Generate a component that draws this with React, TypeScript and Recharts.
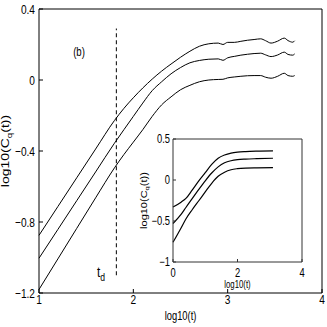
import { LineChart, Line, XAxis, YAxis, ReferenceLine } from "recharts";

// main panel: log10(t) grid and the three curves
const tMain = [1.0, 1.2, 1.4, 1.6, 1.8, 1.9, 2.0, 2.1, 2.2, 2.3, 2.4, 2.5, 2.6, 2.7, 2.8, 2.9, 2.95, 3.0, 3.07, 3.14, 3.21, 3.28, 3.35, 3.4, 3.46, 3.53, 3.6, 3.64, 3.69, 3.71];
const cUpper = [-0.875, -0.713, -0.551, -0.389, -0.228, -0.16, -0.1, -0.045, 0.005, 0.05, 0.09, 0.128, 0.162, 0.19, 0.204, 0.208, 0.2, 0.212, 0.212, 0.218, 0.224, 0.228, 0.232, 0.222, 0.208, 0.219, 0.236, 0.222, 0.213, 0.221];
const cMiddle = [-1.004, -0.842, -0.68, -0.518, -0.356, -0.28, -0.205, -0.13, -0.06, -0.01, 0.035, 0.07, 0.097, 0.11, 0.117, 0.119, 0.111, 0.125, 0.133, 0.14, 0.145, 0.149, 0.151, 0.142, 0.132, 0.141, 0.157, 0.144, 0.14, 0.147];
const cLower = [-1.18, -1.008, -0.836, -0.664, -0.495, -0.42, -0.35, -0.28, -0.205, -0.14, -0.095, -0.055, -0.03, -0.01, 0.0, 0.003, 0.004, 0.012, 0.017, 0.021, 0.024, 0.025, 0.025, 0.016, 0.01, 0.021, 0.038, 0.025, 0.021, 0.025];
const mainXTicks = [1, 2, 3, 4];
const mainYTicks = [-1.2, -0.8, -0.4, 0, 0.4];
const tD = 1.82;
const tDSpan = [-1.1, 0.29];

// inset
const tInset = [0, 0.25, 0.4, 0.6, 0.8, 1.0, 1.2, 1.4, 1.6, 1.8, 2.0, 2.25, 2.6, 3.1];
const iUpper = [-0.33, -0.27, -0.225, -0.12, -0.01, 0.09, 0.19, 0.265, 0.305, 0.328, 0.34, 0.347, 0.352, 0.355];
const iMiddle = [-0.53, -0.42, -0.335, -0.225, -0.115, -0.01, 0.085, 0.16, 0.21, 0.235, 0.248, 0.255, 0.26, 0.265];
const iLower = [-0.76, -0.585, -0.475, -0.36, -0.253, -0.145, -0.04, 0.045, 0.095, 0.125, 0.138, 0.145, 0.148, 0.15];
const insetXTicks = [0, 2, 4];
const insetYTicks = [-1, -0.5, 0, 0.5];

const mainRows = tMain.map((t, i) => ({ t, a: cUpper[i], b: cMiddle[i], c: cLower[i] }));
const insetRows = tInset.map((t, i) => ({ t, a: iUpper[i], b: iMiddle[i], c: iLower[i] }));

const FONT = '"Liberation Sans", Arial, Helvetica, sans-serif';
const fmt = (v: number) => String(v).replace("-", "\u2212");

// horizontally squeezed text, the reference looks like a narrow Helvetica
function NText({ x, y, size, sx = 0.78, anchor = "middle", rotate = false, dy, children }: any) {
  const tf = `translate(${x},${y}) scale(${sx},1)${rotate ? " rotate(-90)" : ""}`;
  return (
    <text transform={tf} fontSize={size} fontFamily={FONT} textAnchor={anchor} dy={dy} fill="#000">
      {children}
    </text>
  );
}

// tickSize is 0, so the axis line sits tickMargin away from the tick props
const leftTick = (gap: number, len: number, size: number, color: string) => (p: any) => (
  <g>
    <line x1={p.x + gap} x2={p.x + gap + len} y1={p.y} y2={p.y} stroke={color} />
    <NText x={p.x} y={p.y} size={size} anchor="end" dy="0.35em">{fmt(p.payload.value)}</NText>
  </g>
);
const bottomTick = (len: number, size: number, base: number, color: string) => (p: any) => (
  <g>
    <line x1={p.x} x2={p.x} y1={p.y} y2={p.y - len} stroke={color} />
    <NText x={p.x} y={p.y + base} size={size}>{fmt(p.payload.value)}</NText>
  </g>
);

const yTitle = (size: number, bx: number) => (p: any) => {
  const vb = p.viewBox;
  return (
    <NText x={bx} y={vb.y + vb.height / 2} size={size} sx={0.75} rotate>
      log10(C<tspan fontSize={size * 0.7} dy={size * 0.25} fill="#000">q</tspan>
      <tspan dy={-size * 0.25} fill="#000">(t))</tspan>
    </NText>
  );
};
const xTitle = (size: number, off: number) => (p: any) => {
  const vb = p.viewBox;
  return <NText x={vb.x + vb.width / 2} y={vb.y + off} size={size}>log10(t)</NText>;
};

// axes get a 1px band: recharts skips drawing an axis whose width or height is 0
function MainChart() {
  const ink = "#000";
  return (
    <LineChart width={327} height={327} data={mainRows} margin={{ top: 9, right: 5, bottom: 33, left: 38 }}>
      <XAxis dataKey="t" type="number" domain={[1, 4]} ticks={mainXTicks} interval={0} height={1}
        tickSize={0} tickMargin={0} axisLine={{ stroke: ink }} tickLine={false}
        tick={bottomTick(4, 13, 11, ink)} label={{ content: xTitle(12, 27) }} />
      <XAxis xAxisId="top" orientation="top" type="number" domain={[1, 4]} ticks={mainXTicks} interval={0}
        height={1} mirror tickSize={4} tick={false} axisLine={{ stroke: ink }} tickLine={{ stroke: ink }} />
      <YAxis type="number" domain={[-1.2, 0.4]} ticks={mainYTicks} interval={0} width={1}
        tickSize={0} tickMargin={4} axisLine={{ stroke: ink }} tickLine={false}
        tick={leftTick(4, 4, 13, ink)} label={{ content: yTitle(14, 9) }} />
      <YAxis yAxisId="right" orientation="right" type="number" domain={[-1.2, 0.4]} ticks={mainYTicks} interval={0}
        width={1} mirror tickSize={4} tick={false} axisLine={{ stroke: ink }} tickLine={{ stroke: ink }} />
      <ReferenceLine segment={[{ x: tD, y: tDSpan[0] }, { x: tD, y: tDSpan[1] }]} stroke={ink} strokeDasharray="4 3" />
      <Line dataKey="a" type="monotone" stroke={ink} strokeWidth={1} dot={false} isAnimationActive={false} />
      <Line dataKey="b" type="monotone" stroke={ink} strokeWidth={1} dot={false} isAnimationActive={false} />
      <Line dataKey="c" type="monotone" stroke={ink} strokeWidth={1} dot={false} isAnimationActive={false} />
    </LineChart>
  );
}

function InsetChart() {
  const ink = "#333";
  return (
    <LineChart width={327} height={327} data={insetRows} margin={{ top: 139, right: 25, bottom: 64, left: 172 }}>
      <XAxis dataKey="t" type="number" domain={[0, 4]} ticks={insetXTicks} interval={0} height={1}
        tickSize={0} tickMargin={0} axisLine={{ stroke: ink }} tickLine={false}
        tick={bottomTick(3, 12, 15, ink)} label={{ content: xTitle(10, 26) }} />
      <XAxis xAxisId="top" orientation="top" type="number" domain={[0, 4]} ticks={insetXTicks} interval={0}
        height={1} mirror tickSize={3} tick={false} axisLine={{ stroke: ink }} tickLine={{ stroke: ink }} />
      <YAxis type="number" domain={[-1, 0.5]} ticks={insetYTicks} interval={0} width={1}
        tickSize={0} tickMargin={3} axisLine={{ stroke: ink }} tickLine={false}
        tick={leftTick(3, 3, 12, ink)} label={{ content: yTitle(11, 146.5) }} />
      <YAxis yAxisId="right" orientation="right" type="number" domain={[-1, 0.5]} ticks={insetYTicks} interval={0}
        width={1} mirror tickSize={3} tick={false} axisLine={{ stroke: ink }} tickLine={{ stroke: ink }} />
      <Line dataKey="a" type="monotone" stroke="#000" strokeWidth={1.2} dot={false} isAnimationActive={false} />
      <Line dataKey="b" type="monotone" stroke="#000" strokeWidth={1.2} dot={false} isAnimationActive={false} />
      <Line dataKey="c" type="monotone" stroke="#000" strokeWidth={1.2} dot={false} isAnimationActive={false} />
    </LineChart>
  );
}

export default function App() {
  return (
    <div style={{ position: "absolute", left: 0, top: 0, width: 327, height: 327, background: "#fff" }}>
      <div style={{ position: "absolute", left: 0, top: 0 }}>
        <MainChart />
      </div>
      <div style={{ position: "absolute", left: 0, top: 0 }}>
        <InsetChart />
      </div>
      <svg width={327} height={327} style={{ position: "absolute", left: 0, top: 0, pointerEvents: "none" }}>
        <NText x={79} y={56} size={12} sx={0.8}>(b)</NText>
        <NText x={97} y={277} size={15} anchor="start">
          t<tspan fontSize={11} dy={4} fill="#000">d</tspan>
        </NText>
      </svg>
    </div>
  );
}
